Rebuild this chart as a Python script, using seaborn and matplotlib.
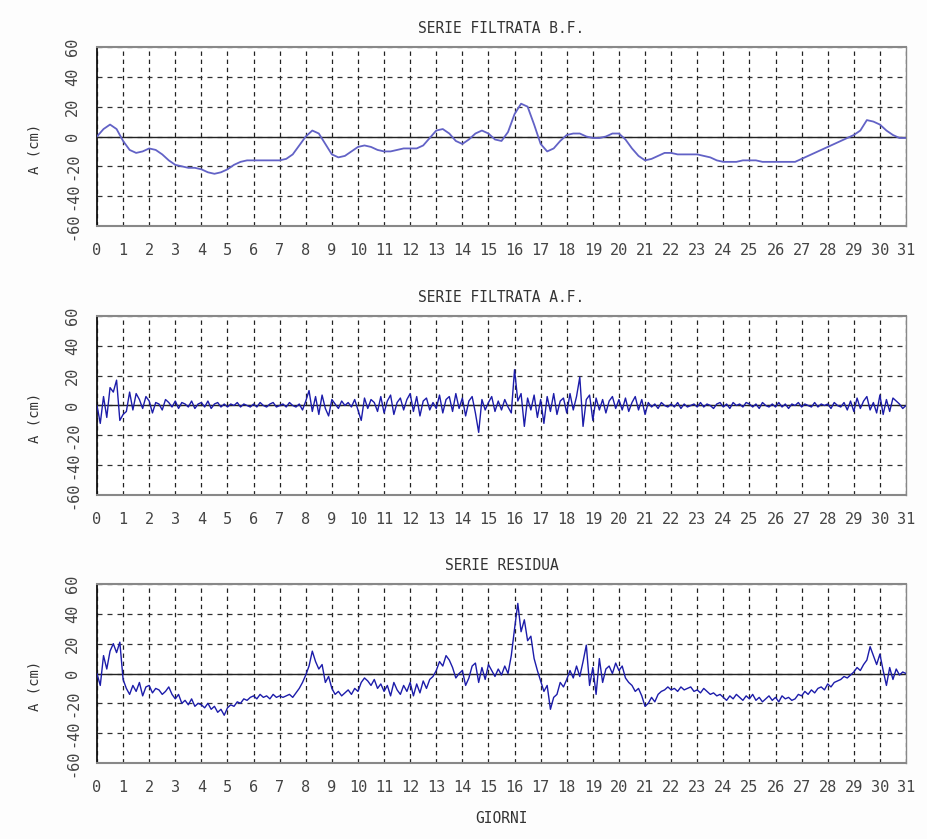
import numpy as np
import pandas as pd
import seaborn as sns
import matplotlib.pyplot as plt

# Titles and axis texts
titles = ["SERIE FILTRATA B.F.", "SERIE FILTRATA A.F.", "SERIE RESIDUA"]
y_label = "A (cm)"
x_label = "GIORNI"
day_ticks = list(range(0, 32))
amp_ticks = [-60, -40, -20, 0, 20, 40, 60]

# Low-pass filtered series (every 6 hours)
bf_values = [
    0, 5, 8, 5,   -3, -9, -11, -10,   -8, -9, -12, -16,   -19, -20, -21, -21,
    -22, -24, -25, -24,   -22, -19, -17, -16,   -16, -16, -16, -16,   -16, -15, -12, -6,
    0, 4, 2, -5,   -12, -14, -13, -10,   -7, -6, -7, -9,   -10, -10, -9, -8,
    -8, -8, -6, -1,   4, 5, 2, -3,   -5, -2, 2, 4,   2, -2, -3, 3,
    15, 22, 20, 8,   -5, -10, -8, -3,   1, 2, 2, 0,   -1, -1, 0, 2,
    2, -2, -8, -13,   -16, -15, -13, -11,   -11, -12, -12, -12,   -12, -13, -14, -16,
    -17, -17, -17, -16,   -16, -16, -17, -17,   -17, -17, -17, -17,   -15, -13, -11, -9,
    -7, -5, -3, -1,   1, 4, 11, 10,   8, 4, 1, -1,
    -1,
]

# High-pass filtered series (every 3 hours)
af_values = [
    0, -12, 6, -8, 12, 9, 17, -10,
    -6, -4, 9, -3, 8, 4, -2, 6,
    3, -5, 2, 1, -3, 4, 2, -1,
    3, -2, 2, 1, -1, 3, -2, 1,
    2, -1, 3, -2, 1, 2, -1, 1,
    -1, 1, 0, 2, -1, 1, 0, -1,
    1, -1, 2, 0, -1, 1, 2, -1,
    0, 1, -1, 2, 0, -1, 1, -3,
    3, 10, -4, 6, -6, 7, -2, -7,
    4, 1, -2, 3, 0, 2, -1, 4,
    -3, -10, 5, -2, 4, 2, -4, 6,
    -5, 3, 7, -6, 2, 5, -3, 4,
    8, -4, 6, -7, 3, 5, -3, 2,
    -2, 7, -5, 4, 6, -4, 8, -2,
    5, -7, 3, 6, -5, -18, 4, -3,
    2, 6, -4, 3, -3, 4, -1, -5,
    24, 3, 8, -14, 5, -3, 7, -8,
    4, -12, 6, -4, 8, -6, 3, 5,
    -5, 8, -3, 6, 19, -14, 4, 7,
    -10, 5, -3, 4, -5, 3, 6, -2,
    4, -3, 5, -4, 2, 6, -3, 4,
    -6, 2, -1, 1, -2, 2, 0, -1,
    1, -1, 2, -2, 1, -1, 0, 1,
    -1, 2, -1, 1, 0, -2, 1, 2,
    -1, 1, -2, 2, 0, 1, -1, 2,
    1, -1, 1, -2, 2, 0, -1, 1,
    -1, 2, -1, 1, -2, 1, 0, 2,
    -1, 1, 0, -1, 2, -1, 1, 0,
    1, -2, 2, 0, -1, 2, -3, 3,
    -4, 5, -2, 3, 6, -3, 2, -5,
    7, -6, 4, -4, 5, 3, 1, -2,
    0,
]

# Residual series (every 3 hours)
res_values = [
    0, -8, 12, 3, 15, 20, 14, 21,
    -4, -10, -14, -8, -12, -6, -15, -9,
    -8, -13, -10, -11, -14, -12, -9, -14,
    -17, -14, -20, -18, -21, -17, -22, -20,
    -21, -23, -20, -24, -22, -26, -24, -28,
    -23, -21, -22, -19, -20, -17, -18, -16,
    -15, -17, -14, -16, -15, -17, -14, -16,
    -15, -16, -15, -14, -16, -13, -10, -6,
    -1, 5, 15, 8, 3, 6, -6, -2,
    -10, -14, -12, -15, -13, -11, -14, -10,
    -12, -6, -3, -5, -8, -4, -10, -7,
    -12, -8, -15, -6, -11, -14, -8, -12,
    -6, -15, -7, -13, -5, -10, -4, -2,
    2, 8, 5, 12, 9, 4, -3, 0,
    2, -8, -3, 5, 7, -6, 4, -4,
    6, 2, -2, 3, -1, 5, 0, 12,
    30, 47, 28, 36, 22, 25, 10, 2,
    -5, -12, -8, -24, -16, -14, -6, -9,
    -4, 2, -3, 5, -2, 8, 19, -8,
    4, -14, 10, -6, 3, 5, 0, 7,
    2, 5, -3, -6, -8, -12, -10, -15,
    -22, -20, -16, -19, -14, -12, -11, -9,
    -11, -10, -12, -9, -11, -10, -9, -12,
    -11, -13, -10, -12, -14, -13, -15, -14,
    -16, -18, -15, -17, -14, -16, -18, -15,
    -17, -14, -18, -16, -19, -17, -15, -18,
    -16, -19, -15, -17, -16, -18, -17, -14,
    -15, -12, -14, -11, -13, -10, -9, -11,
    -7, -9, -6, -5, -4, -2, -3, -1,
    1, 4, 2, 6, 9, 18, 12, 6,
    13, 2, -8, 4, -4, 3, -1, 1,
    0,
]

bf_days = np.arange(len(bf_values)) * 0.25
hf_days = np.arange(len(af_values)) * 0.125

series = [
    pd.DataFrame({"giorno": bf_days, "A": bf_values}),
    pd.DataFrame({"giorno": hf_days, "A": af_values}),
    pd.DataFrame({"giorno": hf_days, "A": res_values}),
]
line_colors = ["#6262c6", "#1c1caa", "#1c1caa"]
line_widths = [1.3, 1.0, 1.0]

sns.set_style("white")
plt.rcParams["font.family"] = ["DejaVu Sans Mono"]

fig = plt.figure(figsize=(9.27, 8.39), dpi=100)
fig.patch.set_facecolor("#fdfdfd")

left, width, height = 97 / 927, 809 / 927, 179 / 839
bottoms = [1 - 226 / 839, 1 - 495 / 839, 1 - 763 / 839]

for i, df in enumerate(series):
    ax = fig.add_axes([left, bottoms[i], width, height])
    ax.set_facecolor("white")

    # grid first so data sits on top
    ax.set_xlim(0, 31)
    ax.set_ylim(-60, 60)
    ax.set_xticks(day_ticks)
    ax.set_yticks(amp_ticks)
    ax.xaxis.grid(True, color="#222222", linestyle=(0, (3.5, 3)), linewidth=0.9)
    ax.yaxis.grid(True, color="#333333", linestyle=(0, (4, 4)), linewidth=0.9)
    ax.axhline(0, color="#222222", linewidth=1.0, zorder=1.5)

    sns.lineplot(data=df, x="giorno", y="A", ax=ax, color=line_colors[i],
                 linewidth=line_widths[i], zorder=3)

    ax.set_title(titles[i], fontsize=10.5, pad=10, color="#333333")
    ax.set_ylabel(y_label, fontsize=10, color="#333333")
    ax.yaxis.set_label_coords(-0.068, 0.43)
    if i == 2:
        ax.set_xlabel(x_label, fontsize=10.5, color="#333333", labelpad=12)
    else:
        ax.set_xlabel("")

    ax.set_xticklabels([str(d) for d in day_ticks], fontsize=11, color="#444444")
    ax.set_yticklabels([str(a) for a in amp_ticks], fontsize=11, color="#444444",
                       rotation=90, va="center")
    ax.tick_params(axis="x", direction="out", length=8, width=1.0, pad=4,
                   color="#222222")
    ax.tick_params(axis="y", direction="out", length=9, width=1.0, pad=3,
                   color="#222222")

    ax.spines["left"].set_color("#111111")
    ax.spines["left"].set_linewidth(1.3)
    for side in ["top", "bottom", "right"]:
        ax.spines[side].set_color("#888888")
    ax.spines["top"].set_linewidth(1.5)
    ax.spines["bottom"].set_linewidth(1.5)
    ax.spines["right"].set_linewidth(1.0)

fig.savefig("out.png", dpi=100, facecolor=fig.get_facecolor())
plt.close()
